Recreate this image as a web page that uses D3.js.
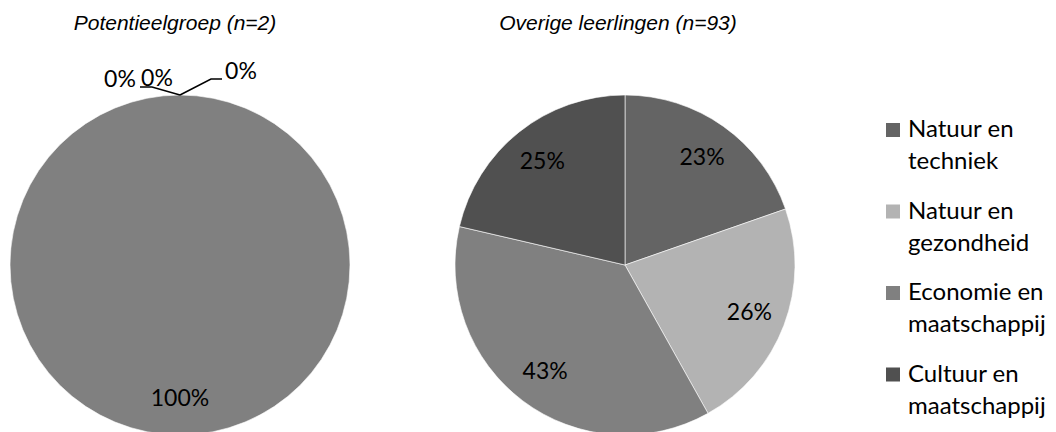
<!DOCTYPE html>
<html lang="nl">
  <head>
    <meta charset="UTF-8" />
    <title>Sectorkeuze</title>
    <script src="https://d3js.org/d3.v7.min.js"></script>
    <style>
      body { margin: 0; background: #fff; }
      svg { display: block; }
      .title { font-family: "Liberation Sans", Arial, sans-serif; font-style: italic; font-size: 21px; fill: #000; }
      .lbl { font-family: Lato, "Open Sans", sans-serif; font-size: 23px; fill: #000; }
      .legend text { font-family: Lato, "Open Sans", sans-serif; font-size: 24px; fill: #000; }
    </style>
  </head>
  <body>
    <div id="chart"></div>
    <script>
      const categories = [
        "Natuur en techniek",
        "Natuur en gezondheid",
        "Economie en maatschappij",
        "Cultuur en maatschappij"
      ];
      const legendLines = [
        ["Natuur en", "techniek"],
        ["Natuur en", "gezondheid"],
        ["Economie en", "maatschappij"],
        ["Cultuur en", "maatschappij"]
      ];
      const colors = ["#646464", "#b3b3b3", "#808080", "#505050"];

      const potentieelValues = [0, 0, 100, 0];
      const overigeValues = [23, 26, 43, 25];

      const pies = [
        { title: "Potentieelgroep (n=2)", values: potentieelValues, cx: 180, titleX: 175 },
        { title: "Overige leerlingen (n=93)", values: overigeValues, cx: 625, titleX: 618 }
      ];

      const width = 1056;
      const height = 432;
      const radius = 170;
      const cy = 265;

      const svg = d3
        .select("#chart")
        .append("svg")
        .attr("width", width)
        .attr("height", height);

      const color = d3.scaleOrdinal().domain(categories).range(colors);

      const pie = d3.pie().sort(null).value((d) => d.value);
      const arc = d3.arc().innerRadius(0).outerRadius(radius);
      const labelArc = d3.arc().innerRadius(133).outerRadius(133);

      pies.forEach((p) => {
        svg
          .append("text")
          .attr("class", "title")
          .attr("x", p.titleX)
          .attr("y", 30)
          .attr("text-anchor", "middle")
          .text(p.title);

        const data = categories.map((c, i) => ({ cat: c, value: p.values[i] }));
        const arcs = pie(data);

        const g = svg.append("g").attr("transform", `translate(${p.cx},${cy})`);

        g.selectAll("path")
          .data(arcs.filter((d) => d.data.value > 0))
          .enter()
          .append("path")
          .attr("d", arc)
          .attr("fill", (d) => color(d.data.cat))
          .attr("stroke", "#fff")
          .attr("stroke-width", 0.6);

        // labels for slices with a value
        g.selectAll("text.lbl")
          .data(arcs.filter((d) => d.data.value > 0))
          .enter()
          .append("text")
          .attr("class", "lbl")
          .attr("text-anchor", "middle")
          .attr("dy", "0.35em")
          .attr("transform", (d) => `translate(${labelArc.centroid(d)})`)
          .text((d) => d.data.value + "%");

        // zero slices: labels pushed outside the pie, with leader lines
        const zeros = arcs.filter((d) => d.data.value === 0);
        if (zeros.length) {
          const a = zeros[0].startAngle;
          const anchor = [radius * Math.sin(a), -radius * Math.cos(a)];
          const placed = [
            { dx: -60, dy: -8, line: null },
            { dx: -23, dy: -9, line: [[-40, -8], [-28, -8], [0, 0]] },
            { dx: 61, dy: -16, line: [[0, 0], [31, -16], [42, -16]] }
          ];
          zeros.forEach((d, i) => {
            const o = placed[i];
            if (o.line) {
              g.append("path")
                .attr("fill", "none")
                .attr("stroke", "#000")
                .attr("stroke-width", 1.5)
                .attr(
                  "d",
                  d3.line()(o.line.map((q) => [anchor[0] + q[0], anchor[1] + q[1]]))
                );
            }
            g.append("text")
              .attr("class", "lbl")
              .attr("text-anchor", "middle")
              .attr("x", anchor[0] + o.dx)
              .attr("y", anchor[1] + o.dy)
              .text(d.data.value + "%");
          });
        }
      });

      // legend
      const legend = svg
        .append("g")
        .attr("class", "legend")
        .attr("transform", "translate(886,123)");

      const items = legend
        .selectAll("g")
        .data(categories)
        .enter()
        .append("g")
        .attr("transform", (d, i) => `translate(0,${i * 81.5})`);

      items
        .append("rect")
        .attr("width", 14)
        .attr("height", 14)
        .attr("fill", (d) => color(d));

      items
        .append("text")
        .attr("x", 22)
        .attr("y", 14)
        .selectAll("tspan")
        .data((d, i) => legendLines[i])
        .enter()
        .append("tspan")
        .attr("x", 22)
        .attr("dy", (d, i) => (i === 0 ? 0 : 32))
        .text((d) => d);
    </script>
  </body>
</html>
